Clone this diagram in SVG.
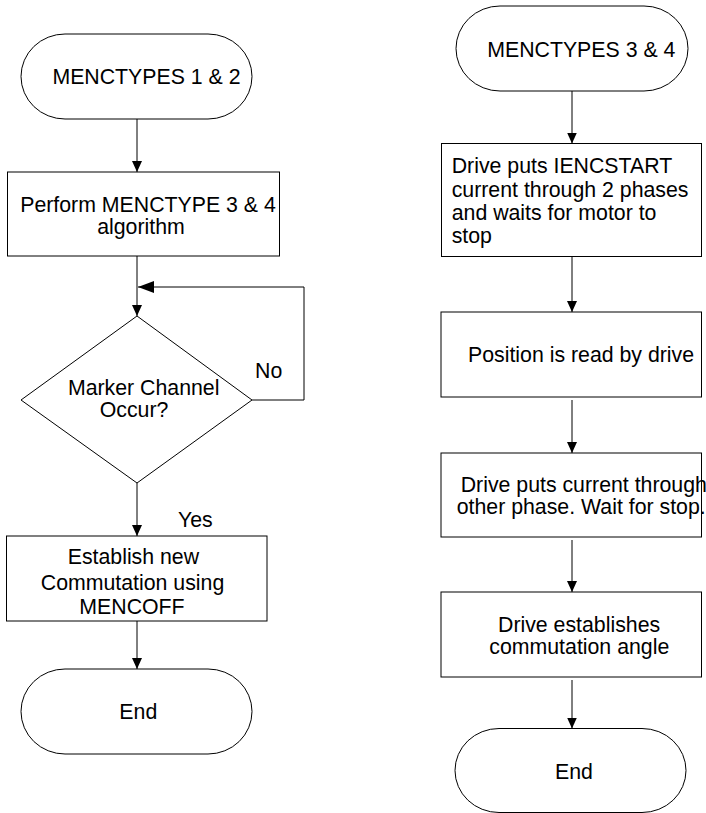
<svg xmlns="http://www.w3.org/2000/svg" width="706" height="813" viewBox="0 0 706 813">
<style>
.s{fill:#fff;stroke:#000;stroke-width:1}
.t{font-family:"Liberation Sans",Arial,sans-serif;font-size:21.3px;fill:#000}
.m{text-anchor:middle}
.c{fill:none;stroke:#000;stroke-width:1}
</style>
<defs>
<marker id="ah" markerUnits="userSpaceOnUse" markerWidth="12" markerHeight="11" refX="11" refY="5" orient="auto">
<path d="M0,0 L11,5 L0,10 Z" fill="#000"/>
</marker>
<marker id="ahL" markerUnits="userSpaceOnUse" markerWidth="17" markerHeight="13" refX="16" refY="6" orient="auto">
<path d="M0,0 L16,6 L0,12 Z" fill="#000"/>
</marker>
</defs>
<rect width="706" height="813" fill="#fff"/>
<g id="connectors">
<line class="c" x1="137" y1="119" x2="137" y2="172" marker-end="url(#ah)"/>
<line class="c" x1="137" y1="256" x2="137" y2="316" marker-end="url(#ah)"/>
<polyline class="c" points="252,400 304,400 304,287 138,287" marker-end="url(#ahL)"/>
<line class="c" x1="137" y1="483" x2="137" y2="536" marker-end="url(#ah)"/>
<line class="c" x1="137" y1="621" x2="137" y2="669" marker-end="url(#ah)"/>
<line class="c" x1="572" y1="91" x2="572" y2="143.5" marker-end="url(#ah)"/>
<line class="c" x1="572" y1="257" x2="572" y2="312" marker-end="url(#ah)"/>
<line class="c" x1="572" y1="400" x2="572" y2="453" marker-end="url(#ah)"/>
<line class="c" x1="572" y1="540" x2="572" y2="592" marker-end="url(#ah)"/>
<line class="c" x1="572" y1="680" x2="572" y2="728.5" marker-end="url(#ah)"/>
<text class="t" x="255" y="378">No</text>
<text class="t" x="178" y="527">Yes</text>
</g>
<g id="start1">
<rect class="s" x="21" y="34" width="231" height="85" rx="44" ry="42.5"/>
<text class="t m" x="146.5" y="84">MENCTYPES 1 &amp; 2</text>
</g>
<g id="perform">
<rect class="s" x="7.5" y="172" width="272" height="84"/>
<text class="t m" x="148" y="211.7">Perform MENCTYPE 3 &amp; 4</text>
<text class="t m" x="141" y="233.7">algorithm</text>
</g>
<g id="marker">
<polygon class="s" points="137,316 252,400 137,483 21,400"/>
<text class="t m" x="143.7" y="395">Marker Channel</text>
<text class="t m" x="134" y="416.7">Occur?</text>
</g>
<g id="establish">
<rect class="s" x="6.5" y="536" width="260.5" height="85"/>
<text class="t m" x="133.4" y="564">Establish new</text>
<text class="t m" x="132.5" y="590">Commutation using</text>
<text class="t m" x="132" y="614">MENCOFF</text>
</g>
<g id="end1">
<rect class="s" x="21" y="669" width="231" height="85" rx="44" ry="42.5"/>
<text class="t m" x="138.3" y="719">End</text>
</g>
<g id="start2">
<rect class="s" x="456" y="6" width="232" height="85" rx="44" ry="42.5"/>
<text class="t m" x="581.3" y="57.3">MENCTYPES 3 &amp; 4</text>
</g>
<g id="ienc">
<rect class="s" x="441.5" y="143.5" width="260" height="113"/>
<text class="t" x="451.7" y="173.3">Drive puts IENCSTART</text>
<text class="t" x="451.7" y="196.7">current through 2 phases</text>
<text class="t" x="451.7" y="220">and waits for motor to</text>
<text class="t" x="451.7" y="243.3">stop</text>
</g>
<g id="position">
<rect class="s" x="441" y="312" width="260.5" height="85"/>
<text class="t" x="468" y="362.3">Position is read by drive</text>
</g>
<g id="other">
<rect class="s" x="441" y="453" width="260.5" height="84"/>
<text class="t" x="460.7" y="491.7">Drive puts current through</text>
<text class="t" x="456.7" y="513.7">other phase. Wait for stop.</text>
</g>
<g id="angle">
<rect class="s" x="441" y="592" width="260.5" height="85"/>
<text class="t" x="498" y="631.7">Drive establishes</text>
<text class="t" x="489.3" y="653.7">commutation angle</text>
</g>
<g id="end2">
<rect class="s" x="455" y="728.5" width="231" height="84" rx="44" ry="42"/>
<text class="t" x="555" y="779.3">End</text>
</g>
</svg>
